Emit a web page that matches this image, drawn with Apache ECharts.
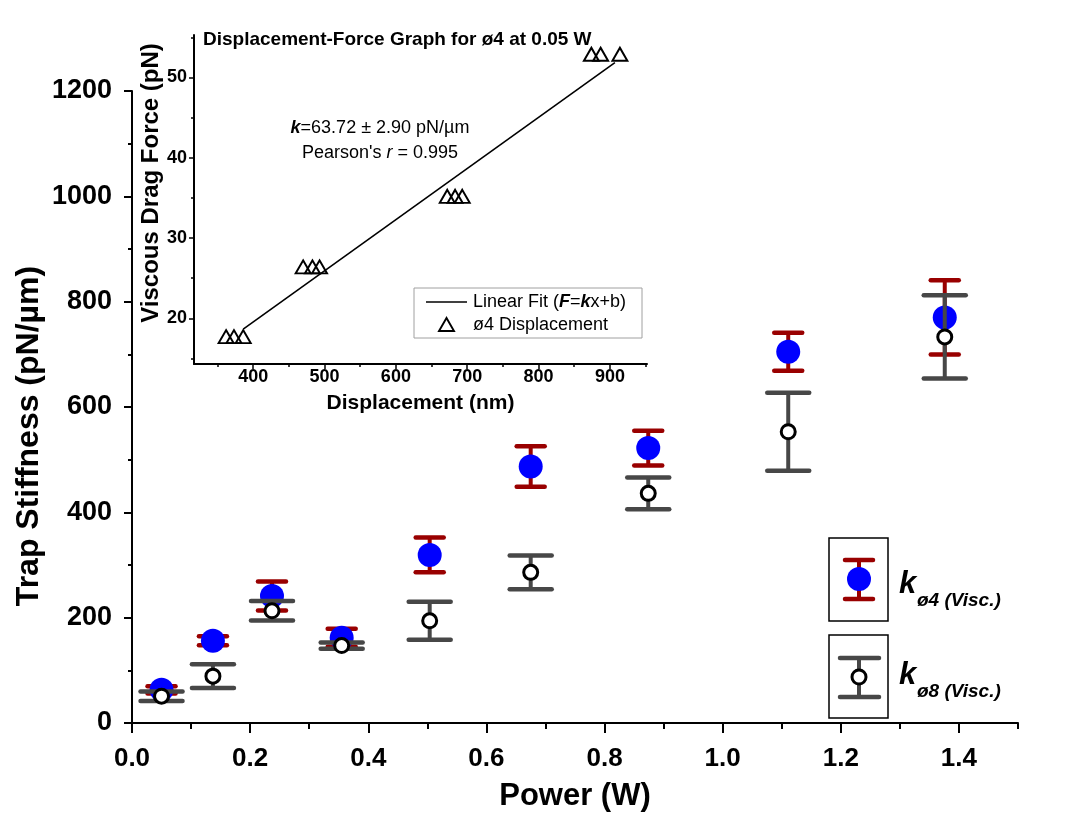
<!DOCTYPE html>
<html>
<head>
<meta charset="utf-8">
<script src="https://cdn.jsdelivr.net/npm/echarts@6/dist/echarts.min.js"></script>
<style>
  html, body { margin: 0; padding: 0; background: #ffffff; }
  #chart { width: 1081px; height: 827px; }
</style>
</head>
<body>
<div id="chart"></div>
<script>
// ---- Main plot: trap stiffness vs. laser power ----
const power = [0.05, 0.137, 0.237, 0.355, 0.504, 0.675, 0.874, 1.111, 1.376];
const kD4 = [63, 156, 241, 162, 319, 487, 522, 705, 770];
const kD4Err = [7, 8.5, 27.5, 17, 33, 38.5, 33, 36, 70.5];
const kD8 = [51, 89, 213, 147, 194, 286, 436, 553, 733];
const kD8Err = [9, 22.5, 18.5, 6, 36, 32, 30, 74, 79];

const powerTicks = [0, 0.2, 0.4, 0.6, 0.8, 1.0, 1.2, 1.4];
const powerMinorTicks = [0.1, 0.3, 0.5, 0.7, 0.9, 1.1, 1.3, 1.5];

// ---- Inset: displacement-force data for ø4 at 0.05 W ----
const displacement = [362, 373, 386, 470, 483, 493, 672, 683, 693, 874, 887, 914];
const dragForce = [17.7, 17.7, 17.7, 26.4, 26.4, 26.4, 35.2, 35.2, 35.2, 52.9, 52.9, 52.9];
const fitSlope = 0.06372;     // pN per nm (63.72 pN/µm)
const fitIntercept = -5.94;   // pN
const fitRange = [386, 907];  // nm

const dispTicks = [400, 500, 600, 700, 800, 900];
const dispMinorTicks = [350, 450, 550, 650, 750, 850, 950];
const forceTicks = [20, 30, 40, 50];
const forceMinorTicks = [15, 25, 35, 45, 55];

const FONT = 'Liberation Sans, Arial, sans-serif';
const RED = '#990000';
const GRAY = '#474747';
const BLUE = '#0000ff';

const chart = echarts.init(document.getElementById('chart'), null, { renderer: 'canvas' });

function errorBars(name, means, errs, color, capWidth, z) {
  return {
    type: 'custom',
    name: name,
    xAxisIndex: 0,
    yAxisIndex: 0,
    z: z,
    silent: true,
    data: power.map((p, i) => [p, means[i] - errs[i], means[i] + errs[i]]),
    renderItem: function (params, api) {
      const x = api.value(0);
      const lo = api.coord([x, api.value(1)]);
      const hi = api.coord([x, api.value(2)]);
      const hw = capWidth / 2;
      const stem = { stroke: color, lineWidth: 4 };
      const cap = { stroke: color, lineWidth: 4.5, lineCap: 'round' };
      return {
        type: 'group',
        children: [
          { type: 'line', shape: { x1: lo[0], y1: lo[1], x2: hi[0], y2: hi[1] }, style: stem },
          { type: 'line', shape: { x1: lo[0] - hw, y1: lo[1], x2: lo[0] + hw, y2: lo[1] }, style: cap },
          { type: 'line', shape: { x1: hi[0] - hw, y1: hi[1], x2: hi[0] + hw, y2: hi[1] }, style: cap }
        ]
      };
    }
  };
}

const axisLineStyle = { show: true, lineStyle: { color: '#000', width: 2 } };

const option = {
  backgroundColor: '#ffffff',
  animation: false,
  grid: [
    { left: 132, right: 63, top: 91, bottom: 104, containLabel: false, outerBoundsMode: 'none' },
    { left: 194, right: 434, top: 35, bottom: 463, containLabel: false, outerBoundsMode: 'none' }
  ],
  xAxis: [
    {
      gridIndex: 0, type: 'value', position: 'bottom', min: 0, max: 1.5,
      axisLine: axisLineStyle,
      axisTick: { show: true, customValues: powerTicks, length: 10, lineStyle: { color: '#000', width: 2 } },
      axisLabel: {
        customValues: powerTicks, margin: 23,
        formatter: v => v.toFixed(1),
        color: '#000', fontFamily: FONT, fontWeight: 'bold', fontSize: 26
      },
      splitLine: { show: false },
      name: 'Power (W)', nameLocation: 'middle', nameGap: 58, nameMoveOverlap: false,
      nameTextStyle: { color: '#000', fontFamily: FONT, fontWeight: 'bold', fontSize: 31 }
    },
    {
      gridIndex: 0, type: 'value', position: 'bottom', min: 0, max: 1.5,
      axisLine: { show: false },
      axisTick: { show: true, customValues: powerMinorTicks, length: 6, lineStyle: { color: '#000', width: 2 } },
      axisLabel: { show: false },
      splitLine: { show: false }
    },
    {
      gridIndex: 1, type: 'value', position: 'bottom', min: 317, max: 952,
      axisLine: axisLineStyle,
      axisTick: { show: true, customValues: dispTicks, length: 5, lineStyle: { color: '#000', width: 1.5 } },
      axisLabel: {
        customValues: dispTicks, margin: 4,
        color: '#000', fontFamily: FONT, fontWeight: 'bold', fontSize: 18
      },
      splitLine: { show: false },
      name: 'Displacement (nm)', nameLocation: 'middle', nameGap: 29, nameMoveOverlap: false,
      nameTextStyle: { color: '#000', fontFamily: FONT, fontWeight: 'bold', fontSize: 21 }
    },
    {
      gridIndex: 1, type: 'value', position: 'bottom', min: 317, max: 952,
      axisLine: { show: false },
      axisTick: { show: true, customValues: dispMinorTicks, length: 3, lineStyle: { color: '#000', width: 1.5 } },
      axisLabel: { show: false },
      splitLine: { show: false }
    }
  ],
  yAxis: [
    {
      gridIndex: 0, type: 'value', position: 'left', min: 0, max: 1200, interval: 200,
      axisLine: axisLineStyle,
      axisTick: { show: true, length: 8, lineStyle: { color: '#000', width: 2 } },
      minorTick: { show: true, splitNumber: 2, length: 4, lineStyle: { color: '#000', width: 2 } },
      axisLabel: {
        margin: 20, formatter: v => String(v),
        color: '#000', fontFamily: FONT, fontWeight: 'bold', fontSize: 27
      },
      splitLine: { show: false },
      minorSplitLine: { show: false },
      name: 'Trap Stiffness (pN/µm)', nameLocation: 'middle', nameGap: 87, nameMoveOverlap: false,
      nameTextStyle: {
        color: '#000', fontFamily: FONT, fontWeight: 'bold', fontSize: 32,
        padding: [0, 58, 0, 0]
      }
    },
    {
      gridIndex: 1, type: 'value', position: 'left', min: 14.3, max: 55.3,
      axisLine: axisLineStyle,
      axisTick: { show: true, customValues: forceTicks, length: 5, lineStyle: { color: '#000', width: 1.5 } },
      axisLabel: {
        customValues: forceTicks, margin: 7,
        color: '#000', fontFamily: FONT, fontWeight: 'bold', fontSize: 18
      },
      splitLine: { show: false },
      name: 'Viscous Drag Force (pN)', nameLocation: 'middle', nameGap: 31, nameMoveOverlap: false,
      nameTextStyle: {
        color: '#000', fontFamily: FONT, fontWeight: 'bold', fontSize: 24,
        padding: [0, 0, 0, 33]
      }
    },
    {
      gridIndex: 1, type: 'value', position: 'left', min: 14.3, max: 55.3,
      axisLine: { show: false },
      axisTick: { show: true, customValues: forceMinorTicks, length: 3, lineStyle: { color: '#000', width: 1.5 } },
      axisLabel: { show: false },
      splitLine: { show: false }
    }
  ],
  series: [
    errorBars('kø4 error', kD4, kD4Err, RED, 28, 2),
    {
      type: 'scatter', name: 'kø4 (Visc.)', xAxisIndex: 0, yAxisIndex: 0, z: 3,
      data: power.map((p, i) => [p, kD4[i]]),
      symbol: 'circle', symbolSize: 24,
      itemStyle: { color: BLUE, opacity: 1 }
    },
    errorBars('kø8 error', kD8, kD8Err, GRAY, 42, 4),
    {
      type: 'scatter', name: 'kø8 (Visc.)', xAxisIndex: 0, yAxisIndex: 0, z: 5,
      data: power.map((p, i) => [p, kD8[i]]),
      symbol: 'circle', symbolSize: 14,
      itemStyle: { color: '#ffffff', borderColor: '#000', borderWidth: 3, opacity: 1 }
    },
    {
      type: 'line', name: 'Linear Fit (F=kx+b)', xAxisIndex: 2, yAxisIndex: 1, z: 3,
      data: fitRange.map(x => [x, fitSlope * x + fitIntercept]),
      symbol: 'none',
      lineStyle: { color: '#000', width: 1.6 }
    },
    {
      type: 'scatter', name: 'ø4 Displacement', xAxisIndex: 2, yAxisIndex: 1, z: 4,
      data: displacement.map((d, i) => [d, dragForce[i]]),
      symbol: 'triangle', symbolSize: [15, 13],
      itemStyle: { color: 'rgba(0,0,0,0)', borderColor: '#000', borderWidth: 1.9, opacity: 1 }
    }
  ],
  graphic: [
    // inset title
    {
      type: 'text', left: 203, top: 30, z: 10,
      style: { text: 'Displacement-Force Graph for ø4 at 0.05 W', fill: '#000', font: 'bold 19px ' + FONT }
    },
    // fit annotation
    {
      type: 'text', x: 380, y: 128, z: 10,
      style: {
        text: '{kb|k}{n|=63.72 ± 2.90 pN/µm}', align: 'center', verticalAlign: 'middle',
        rich: {
          kb: { fill: '#000', font: 'italic bold 18px ' + FONT },
          n: { fill: '#000', font: '18px ' + FONT }
        }
      }
    },
    {
      type: 'text', x: 380, y: 153, z: 10,
      style: {
        text: "{n|Pearson's }{r|r}{n| = 0.995}", align: 'center', verticalAlign: 'middle',
        rich: {
          n: { fill: '#000', font: '18px ' + FONT },
          r: { fill: '#000', font: 'italic 18px ' + FONT }
        }
      }
    },
    // inset legend
    {
      type: 'group', z: 10,
      children: [
        { type: 'rect', shape: { x: 414, y: 288, width: 228, height: 50 }, style: { fill: '#fff', stroke: '#a0a0a0', lineWidth: 1 } },
        { type: 'line', shape: { x1: 426, y1: 302, x2: 467, y2: 302 }, style: { stroke: '#000', lineWidth: 1.6 } },
        { type: 'polygon', shape: { points: [[446.5, 318], [439, 331], [454, 331]] }, style: { fill: 'none', stroke: '#000', lineWidth: 1.9 } },
        {
          type: 'text', x: 473, y: 302,
          style: {
            text: '{n|Linear Fit (}{b|F}{n|=}{b|k}{n|x+b)}', verticalAlign: 'middle',
            rich: {
              n: { fill: '#000', font: '18px ' + FONT },
              b: { fill: '#000', font: 'italic bold 18px ' + FONT }
            }
          }
        },
        {
          type: 'text', x: 473, y: 325,
          style: { text: 'ø4 Displacement', verticalAlign: 'middle', fill: '#000', font: '18px ' + FONT }
        }
      ]
    },
    // main legend: ø4
    {
      type: 'group', z: 10,
      children: [
        { type: 'rect', shape: { x: 829, y: 538, width: 59, height: 83 }, style: { fill: 'none', stroke: '#000', lineWidth: 1.5 } },
        { type: 'line', shape: { x1: 859, y1: 560, x2: 859, y2: 599 }, style: { stroke: RED, lineWidth: 4 } },
        { type: 'line', shape: { x1: 845, y1: 560, x2: 873, y2: 560 }, style: { stroke: RED, lineWidth: 4.5, lineCap: 'round' } },
        { type: 'line', shape: { x1: 845, y1: 599, x2: 873, y2: 599 }, style: { stroke: RED, lineWidth: 4.5, lineCap: 'round' } },
        { type: 'circle', shape: { cx: 859, cy: 579, r: 12 }, style: { fill: BLUE } },
        { type: 'text', x: 899, y: 584, style: { text: 'k', verticalAlign: 'middle', fill: '#000', font: 'italic bold 31px ' + FONT } },
        { type: 'text', x: 917, y: 601, style: { text: 'ø4 (Visc.)', verticalAlign: 'middle', fill: '#000', font: 'italic bold 19px ' + FONT } }
      ]
    },
    // main legend: ø8
    {
      type: 'group', z: 10,
      children: [
        { type: 'rect', shape: { x: 829, y: 635, width: 59, height: 83 }, style: { fill: 'none', stroke: '#000', lineWidth: 1.5 } },
        { type: 'line', shape: { x1: 859, y1: 658, x2: 859, y2: 697 }, style: { stroke: GRAY, lineWidth: 4 } },
        { type: 'line', shape: { x1: 840, y1: 658, x2: 879, y2: 658 }, style: { stroke: GRAY, lineWidth: 4.5, lineCap: 'round' } },
        { type: 'line', shape: { x1: 840, y1: 697, x2: 879, y2: 697 }, style: { stroke: GRAY, lineWidth: 4.5, lineCap: 'round' } },
        { type: 'circle', shape: { cx: 859, cy: 677, r: 7 }, style: { fill: '#fff', stroke: '#000', lineWidth: 3 } },
        { type: 'text', x: 899, y: 675, style: { text: 'k', verticalAlign: 'middle', fill: '#000', font: 'italic bold 31px ' + FONT } },
        { type: 'text', x: 917, y: 692, style: { text: 'ø8 (Visc.)', verticalAlign: 'middle', fill: '#000', font: 'italic bold 19px ' + FONT } }
      ]
    }
  ]
};

chart.setOption(option);
</script>
</body>
</html>
